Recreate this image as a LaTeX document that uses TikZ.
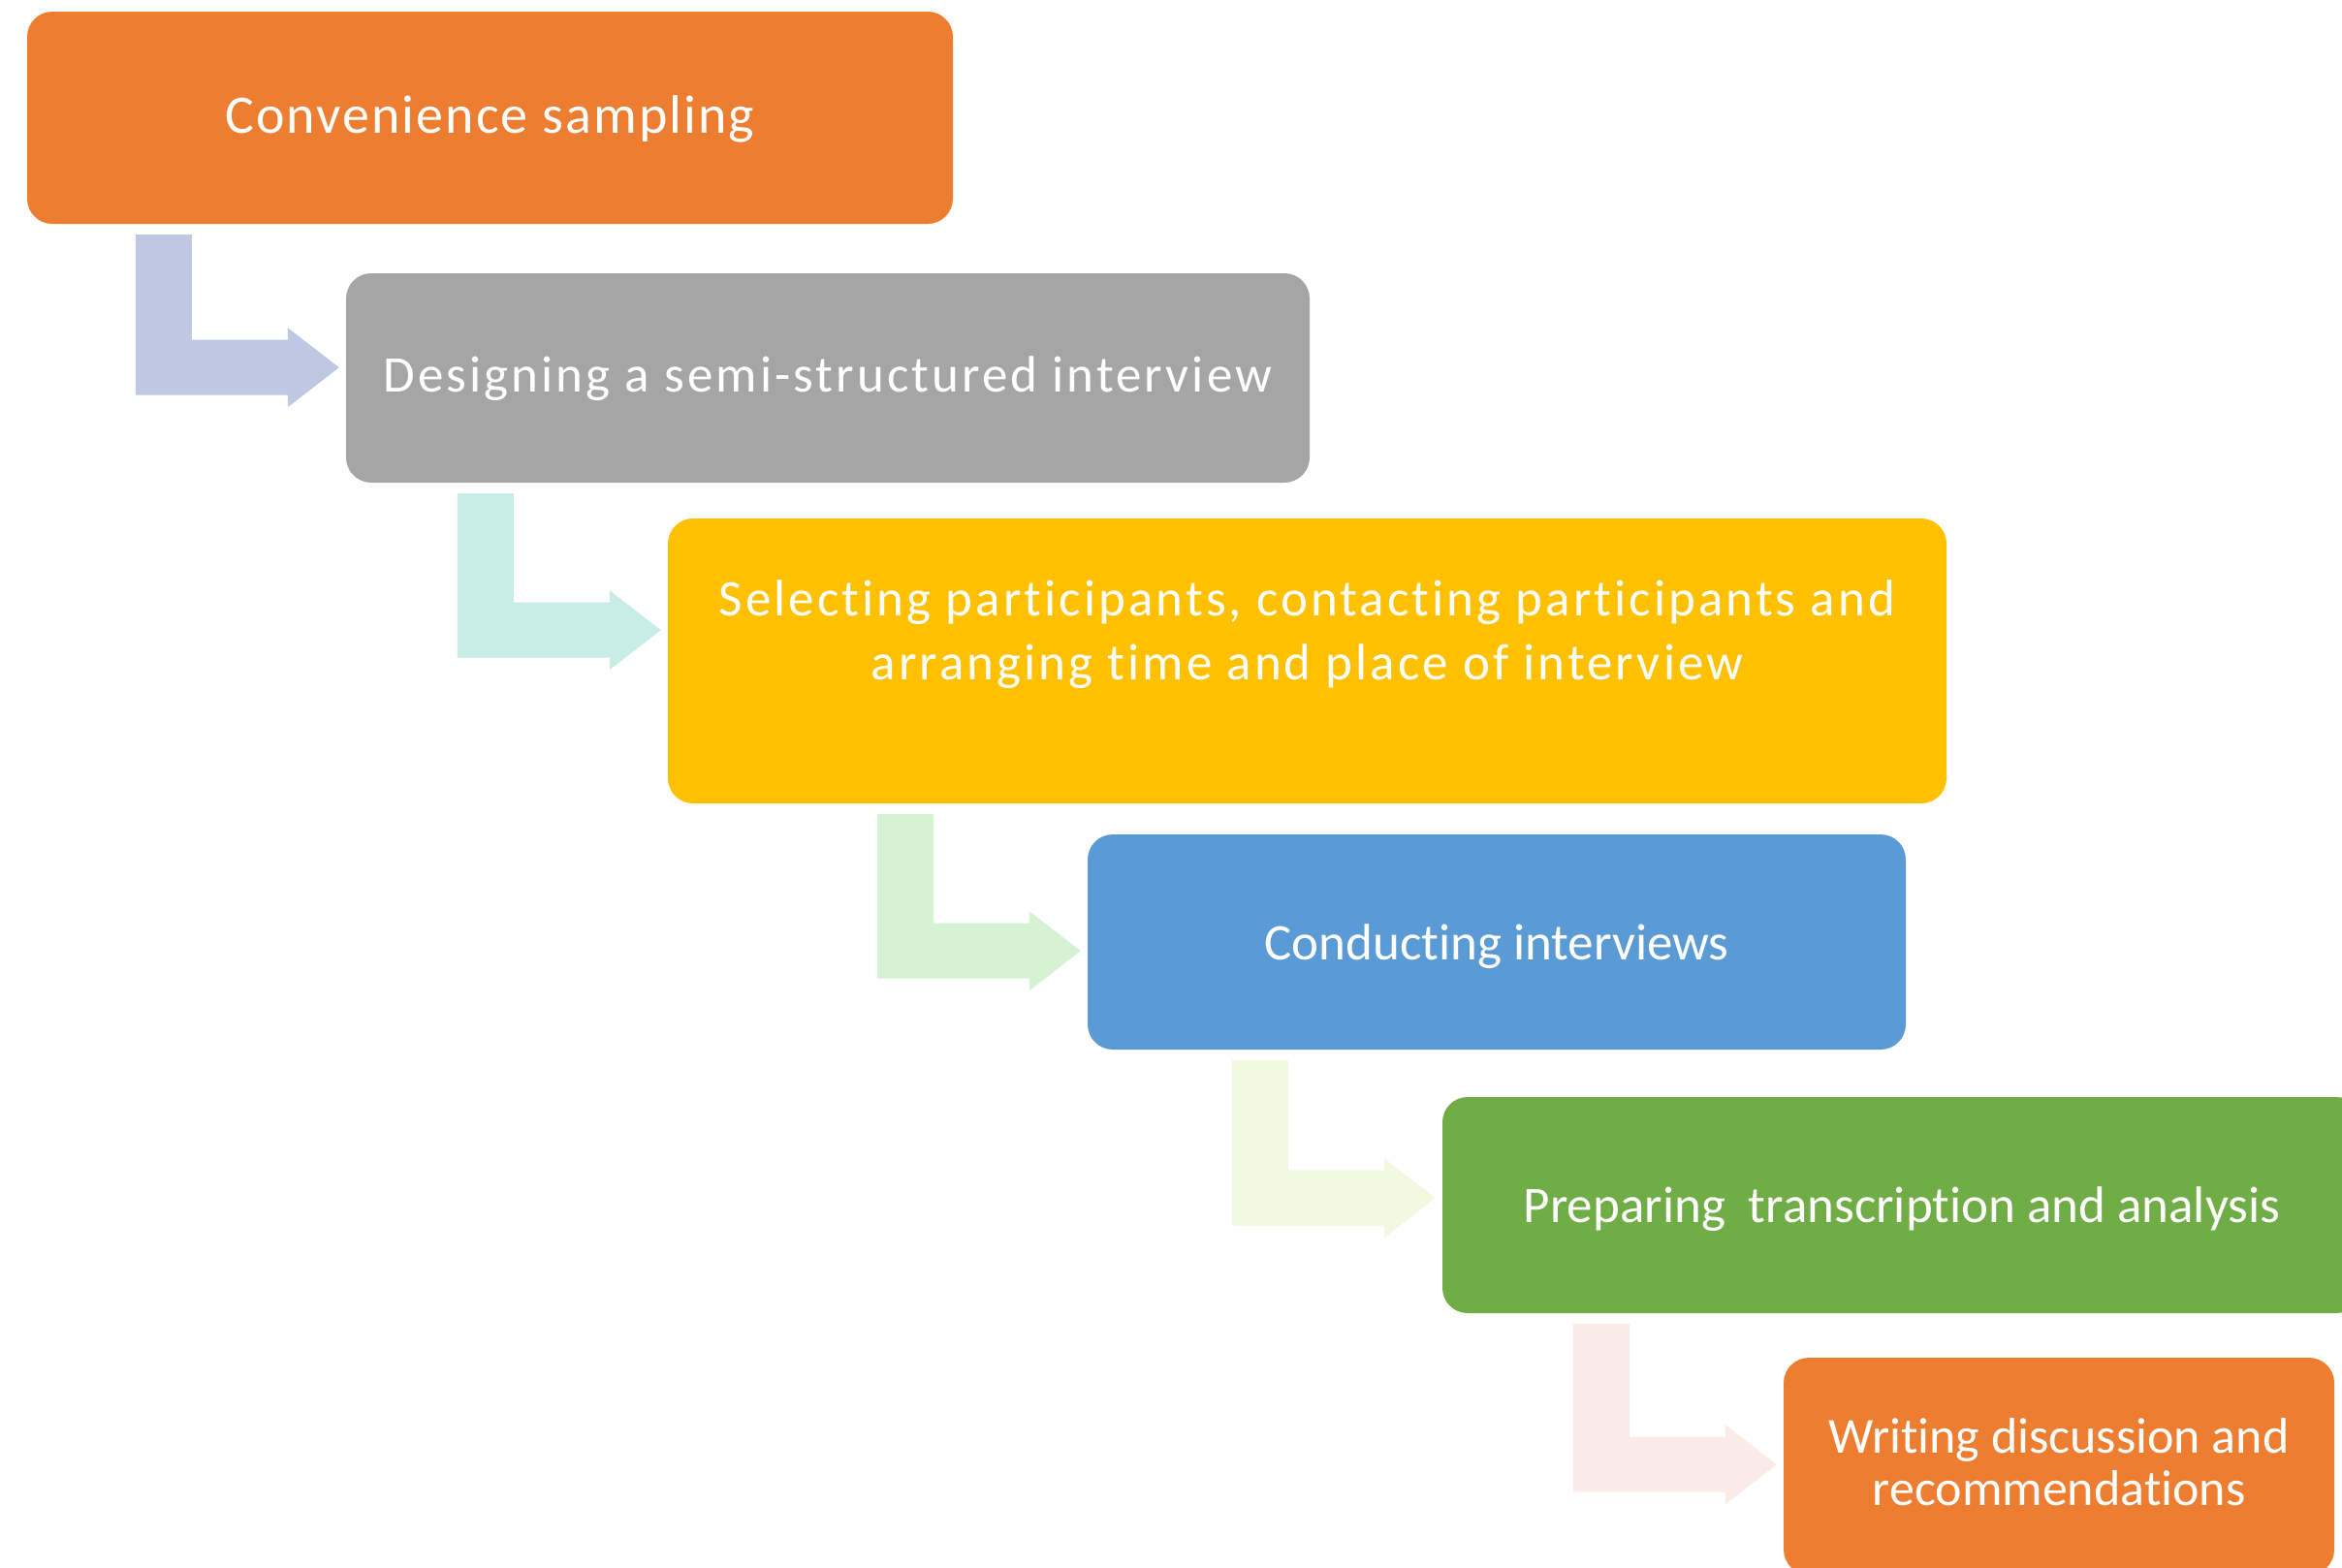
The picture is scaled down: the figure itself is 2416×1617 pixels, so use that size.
\documentclass[tikz,border=0pt]{standalone}
\usepackage{fontspec}
\setmainfont{Carlito}[Ligatures=NoCommon]
\usetikzlibrary{calc}
\definecolor{cOrange}{HTML}{ED7D31}
\definecolor{cGray}{HTML}{A5A5A5}
\definecolor{cYellow}{HTML}{FFC000}
\definecolor{cBlue}{HTML}{5B9BD5}
\definecolor{cGreen}{HTML}{70AD47}
\definecolor{aLav}{HTML}{BEC8E3}
\definecolor{aMint}{HTML}{C8ECE6}
\definecolor{aLGreen}{HTML}{D5F2D3}
\definecolor{aCream}{HTML}{F3F8E1}
\definecolor{aPink}{HTML}{FAEBE8}
\newcommand{\bentarrow}[4]{%
  \fill[#3] let \p1=(#1.south), \p2=(#2.west) in
    (\x2-217pt,\y1-11pt) -- (\x2-159pt,\y1-11pt)
    -- (\x2-159pt,\y1-#4pt+28.5pt) -- (\x2-60pt,\y1-#4pt+28.5pt)
    -- (\x2-60pt,\y1-#4pt+41pt) -- (\x2-7pt,\y1-#4pt)
    -- (\x2-60pt,\y1-#4pt-41pt) -- (\x2-60pt,\y1-#4pt-28.5pt)
    -- (\x2-217pt,\y1-#4pt-28.5pt) -- cycle;}
\begin{document}
\begin{tikzpicture}[x=1pt,y=-1pt,
  box/.style={rectangle, rounded corners=26pt, inner sep=0pt, text=white,
    align=center, anchor=center},
  txtbig/.style={font=\fontsize{56}{68}\selectfont\addfontfeatures{LetterSpace=3.7}},
  txtwide/.style={font=\fontsize{53}{66}\selectfont\addfontfeatures{LetterSpace=5.8}},
  txtmid/.style={font=\fontsize{53}{66}\selectfont},
  txtsmall/.style={font=\fontsize{52}{54}\selectfont}]
\useasboundingbox (0,0) rectangle (2416,1617);
\fill[white] (0,0) rectangle (2416,1617);
\node[box, txtbig, fill=cOrange, minimum width=955pt, minimum height=219pt,
  text height=44pt, text depth=12.4pt]
  (b1) at (505.5,121.5) {Convenience sampling};
\node[box, txtwide, fill=cGray, minimum width=994pt, minimum height=216pt,
  text height=40pt, text depth=12pt]
  (b2) at (854,390) {Designing a semi-structured interview};
\node[box, txtwide, fill=cYellow, minimum width=1319pt, minimum height=294pt]
  (b3) at (1348.5,682) {Selecting participants, contacting participants and\\arranging time and place of interview\\[-22pt]\strut};
\node[box, txtmid, fill=cBlue, minimum width=844pt, minimum height=222pt,
  text height=44pt, text depth=8pt]
  (b4) at (1544,972) {Conducting interviews};
\node[box, txtmid, fill=cGreen, minimum width=948pt, minimum height=223pt,
  text height=44pt, text depth=7.6pt]
  (b5) at (1962,1243.5) {Preparing~ transcription and analysis};
\node[box, txtsmall, fill=cOrange, minimum width=568pt, minimum height=224pt]
  (b6) at (2124,1513) {Writing discussion and\\recommendations\rule[-9pt]{0pt}{0pt}};
\bentarrow{b1}{b2}{aLav}{148}
\bentarrow{b2}{b3}{aMint}{152}
\bentarrow{b3}{b4}{aLGreen}{152}
\bentarrow{b4}{b5}{aCream}{153}
\bentarrow{b5}{b6}{aPink}{156}
\end{tikzpicture}
\end{document}
